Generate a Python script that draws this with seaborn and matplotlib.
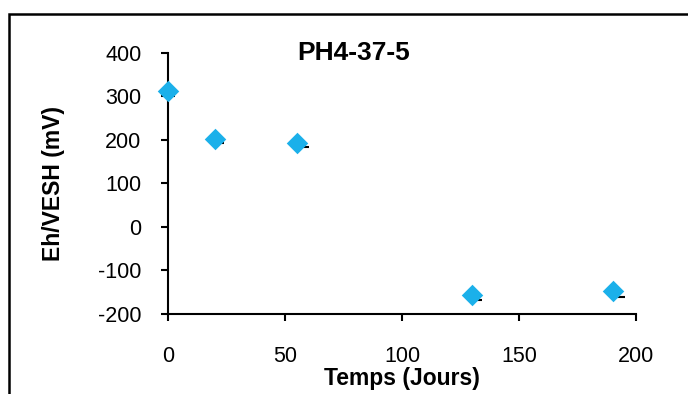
import matplotlib
matplotlib.use("Agg")
import matplotlib.pyplot as plt
import seaborn as sns
import pandas as pd
from matplotlib.patches import Rectangle

temps = [0, 20, 55, 130, 190]
eh = [313, 202, 192, -156, -147]
temps2 = [1, 22, 58, 132, 193]
eh2 = [301, 192, 185, -168, -160]

sns.set_style("white")
plt.rcParams['font.family'] = ['Liberation Sans', 'DejaVu Sans']
plt.rcParams['text.color'] = 'black'
plt.rcParams['axes.labelcolor'] = 'black'
plt.rcParams['xtick.color'] = 'black'
plt.rcParams['ytick.color'] = 'black'
plt.rcParams['axes.unicode_minus'] = False

fig = plt.figure(figsize=(6.88, 3.94), dpi=100)
ax = fig.add_axes([168/688, 1 - 314/394, 468/688, 261/394])

df2 = pd.DataFrame({"t": temps2, "eh": eh2})
df = pd.DataFrame({"t": temps, "eh": eh})
sns.scatterplot(data=df2, x="t", y="eh", marker="_", s=50, color="black", linewidth=1.5, ax=ax, zorder=2)
sns.scatterplot(data=df, x="t", y="eh", marker="D", s=120, color="#1BB0EA", edgecolor="#1BB0EA", linewidth=0, ax=ax, zorder=3, clip_on=False)

ax.set_xlim(0, 200)
ax.set_ylim(-200, 400)
ax.set_xticks([0, 50, 100, 150, 200])
ax.set_yticks([-200, -100, 0, 100, 200, 300, 400])
ax.tick_params(axis="both", direction="out", length=5, width=1.5, color="black", labelsize=15.5, bottom=True, left=True)
ax.tick_params(axis="x", pad=18)
ax.tick_params(axis="y", pad=14)
for s in ["top", "right"]:
    ax.spines[s].set_visible(False)
for s in ["left", "bottom"]:
    ax.spines[s].set_color("black")
    ax.spines[s].set_linewidth(1.5)
ax.set_xlabel("Temps (Jours)", fontsize=16.5, fontweight="bold", labelpad=0)
ax.set_ylabel("Eh/VESH (mV)", fontsize=16.5, fontweight="bold", labelpad=24)
ax.text(0.397, 1.0, "PH4-37-5", transform=ax.transAxes, ha="center", va="center", fontsize=19, fontweight="bold")

fig.patches.append(Rectangle((9/688, -0.05), 1.0, 1 - 14/394 + 0.05, transform=fig.transFigure, fill=False, edgecolor="black", linewidth=1.8))

fig.savefig("out.png", dpi=100)
